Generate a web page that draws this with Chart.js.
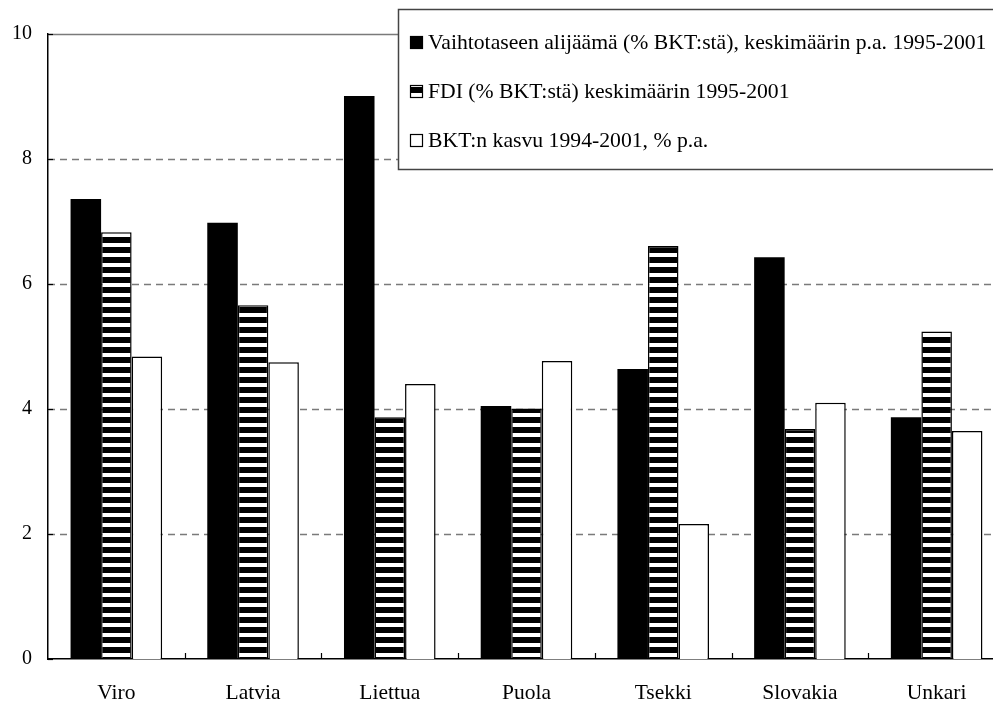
<!DOCTYPE html>
<html><head><meta charset="utf-8">
<script src="https://cdn.jsdelivr.net/npm/chart.js@4"></script>
<style>html,body{margin:0;padding:0;background:#fff;overflow:hidden;}#wrap{width:1010px;height:704px;}</style>
</head><body><div id="wrap"><canvas id="c" width="1010" height="704"></canvas></div>
<script>
const categories = ['Viro', 'Latvia', 'Liettua', 'Puola', 'Tsekki', 'Slovakia', 'Unkari'];
const seriesLabels = [
  'Vaihtotaseen alijäämä (% BKT:stä), keskimäärin p.a. 1995-2001',
  'FDI (% BKT:stä) keskimäärin 1995-2001',
  'BKT:n kasvu 1994-2001, % p.a.'
];
const currentAccountDeficit = [7.36, 6.98, 9.01, 4.05, 4.64, 6.43, 3.87];
const fdi = [6.83, 5.66, 3.87, 4.01, 6.61, 3.68, 5.24];
const gdpGrowth = [4.84, 4.75, 4.40, 4.77, 2.16, 4.10, 3.65];
const yTicks = [0, 2, 4, 6, 8, 10];

const FONT = 'Liberation Serif, Times New Roman, serif';

function makeStripe() {
  const pc = document.createElement('canvas');
  pc.width = 4; pc.height = 10;
  const g = pc.getContext('2d');
  g.fillStyle = '#000'; g.fillRect(0, 0, 4, 10);
  g.fillStyle = '#fff'; g.fillRect(0, 3, 4, 4);
  return document.getElementById('c').getContext('2d').createPattern(pc, 'repeat');
}
const stripe = makeStripe();

const gridPlugin = {
  id: 'gridPlugin',
  beforeDatasetsDraw(chart) {
    const ctx = chart.ctx, y = chart.scales.y, a = chart.chartArea;
    ctx.save();
    yTicks.forEach(v => {
      if (v === 0) return;
      const py = Math.round(y.getPixelForValue(v)) + 0.5;
      ctx.beginPath();
      ctx.lineWidth = 1.5;
      ctx.strokeStyle = '#7a7a7a';
      ctx.setLineDash(v === 10 ? [] : [7, 5]);
      ctx.moveTo(a.left, py); ctx.lineTo(a.right, py);
      ctx.stroke();
    });
    ctx.restore();
  },
  afterDatasetsDraw(chart) {
    const ctx = chart.ctx, y = chart.scales.y, x = chart.scales.x, a = chart.chartArea;
    ctx.save();
    ctx.strokeStyle = '#000'; ctx.lineWidth = 1.2; ctx.setLineDash([]);
    yTicks.forEach(v => {
      const py = Math.round(y.getPixelForValue(v)) + 0.5;
      ctx.beginPath(); ctx.moveTo(a.left, py); ctx.lineTo(a.left + 5, py); ctx.stroke();
    });
    for (let i = 0; i < categories.length - 1; i++) {
      const px = Math.round((x.getPixelForValue(i) + x.getPixelForValue(i + 1)) / 2) + 0.5;
      ctx.beginPath(); ctx.moveTo(px, a.bottom); ctx.lineTo(px, a.bottom - 6); ctx.stroke();
    }
    ctx.restore();
  },
  afterDraw(chart) {
    const ctx = chart.ctx;
    ctx.save();
    const bx = 398.5, by = 9.5, bw = 640, bh = 160;
    ctx.fillStyle = '#fff';
    ctx.fillRect(bx, by, bw, bh);
    ctx.strokeStyle = '#444'; ctx.lineWidth = 1.5;
    ctx.strokeRect(bx, by, bw, bh);
    ctx.font = '21.7px ' + FONT;
    ctx.textBaseline = 'middle';
    ctx.fillStyle = '#000';
    const rows = [42, 91, 140];
    chart.data.datasets.forEach((ds, i) => {
      const cy = rows[i];
      const mx = 410, my = cy - 6, ms = 13;
      ctx.fillStyle = ds.backgroundColor;
      ctx.fillRect(mx, my, ms, ms);
      ctx.lineWidth = 1.2; ctx.strokeStyle = '#000';
      ctx.strokeRect(mx + 0.5, my + 0.5, ms - 1, ms - 1);
      ctx.fillStyle = '#000';
      ctx.fillText(ds.label, 428, cy + 1);
    });
    ctx.restore();
  }
};

new Chart(document.getElementById('c'), {
  type: 'bar',
  data: {
    labels: categories,
    datasets: [
      { label: seriesLabels[0], data: currentAccountDeficit, backgroundColor: '#000', borderColor: '#000', borderWidth: 0 },
      { label: seriesLabels[1], data: fdi, backgroundColor: stripe, borderColor: '#000', borderWidth: 1.5 },
      { label: seriesLabels[2], data: gdpGrowth, backgroundColor: '#fff', borderColor: '#000', borderWidth: 1.5 }
    ]
  },
  options: {
    responsive: false,
    animation: false,
    devicePixelRatio: 1,
    layout: { padding: { top: 34, right: 5, left: 0, bottom: 0 } },
    datasets: { bar: { categoryPercentage: 0.67, barPercentage: 1 } },
    plugins: { legend: { display: false }, tooltip: { enabled: false } },
    scales: {
      x: {
        grid: { display: false, drawTicks: false },
        border: { display: true, color: '#000', width: 1.5 },
        ticks: { color: '#000', font: { family: FONT, size: 21.5 }, padding: 21 },
        afterFit(s) { s.height = 45; }
      },
      y: {
        min: 0, max: 10,
        afterBuildTicks(s) { s.ticks = yTicks.map(v => ({ value: v })); },
        grid: { display: false, drawTicks: false },
        border: { display: true, color: '#000', width: 1.5 },
        ticks: { color: '#000', font: { family: FONT, size: 20 }, padding: 16 },
        afterFit(s) { s.width = 48; }
      }
    }
  },
  plugins: [gridPlugin]
});
</script></body></html>
